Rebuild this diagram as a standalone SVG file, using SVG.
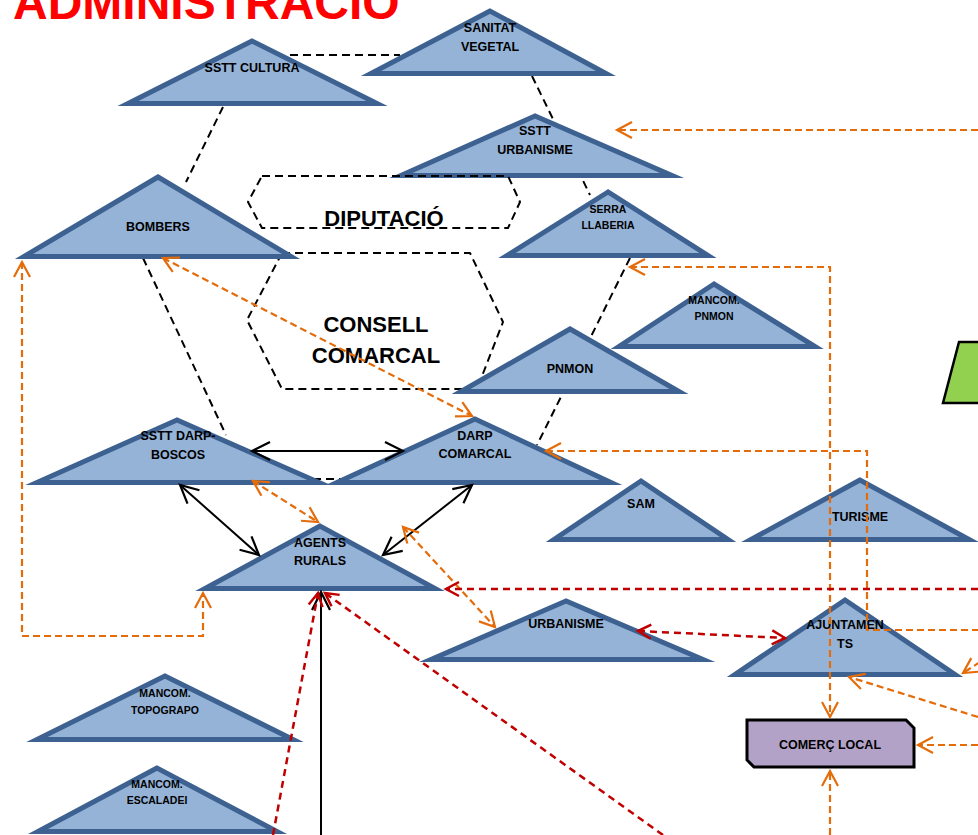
<svg xmlns="http://www.w3.org/2000/svg" width="978" height="835" viewBox="0 0 978 835">
<style>
.tri{fill:#95B3D7;stroke:#3D6190;stroke-width:5;stroke-linejoin:miter;stroke-miterlimit:12}
.lb{font-family:"Liberation Sans",Arial,sans-serif;font-weight:bold;font-size:12.5px;text-anchor:middle;fill:#000}
.sm{font-size:10.5px}
.big{font-size:22px}
.bd{fill:none;stroke:#000;stroke-width:2;stroke-dasharray:8 5}
.bs{fill:none;stroke:#000;stroke-width:2}
.od{fill:none;stroke:#E46C0A;stroke-width:2.2;stroke-dasharray:7 4}
.rd{fill:none;stroke:#C00000;stroke-width:2.5;stroke-dasharray:7 5}
</style>
<defs>
<marker id="ab" markerUnits="userSpaceOnUse" orient="auto-start-reverse" refX="0" refY="0" markerWidth="20" markerHeight="20" overflow="visible"><path d="M-18,-9 L0,0 L-18,9" fill="none" stroke="#000" stroke-width="2.2"/></marker>
<marker id="ao" markerUnits="userSpaceOnUse" orient="auto-start-reverse" refX="0" refY="0" markerWidth="20" markerHeight="20" overflow="visible"><path d="M-15,-8 L0,0 L-15,8" fill="none" stroke="#E46C0A" stroke-width="2.2"/></marker>
<marker id="ar" markerUnits="userSpaceOnUse" orient="auto-start-reverse" refX="0" refY="0" markerWidth="20" markerHeight="20" overflow="visible"><path d="M-13,-7 L0,0 L-13,7" fill="none" stroke="#C00000" stroke-width="2.5"/></marker>
</defs>
<rect width="978" height="835" fill="#fff"/>
<text x="13" y="19" font-family="Liberation Sans,Arial,sans-serif" font-weight="bold" font-size="48" fill="#FF0000">ADMINISTRACIÓ</text>

<g id="connectors-back">
<path class="bd" d="M290,55 H400"/>
<path class="bd" d="M223,107 L186,182"/>
<path class="bd" d="M532,76 L590,195"/>
<path class="bd" d="M630,258 L537,445"/>
<path class="bd" d="M143,258 L226,435"/>
<path class="bd" d="M300,479 H360"/>
</g>

<g id="consell">
<path class="bd" d="M282,253 H470 L503,322 L477,389 H282 L247,320 Z" stroke-linejoin="round"/>
<text class="lb big" x="376" y="332">CONSELL</text>
<text class="lb big" x="376" y="363">COMARCAL</text>
</g>

<g id="sstt-cultura"><polygon class="tri" points="252,41 128,103.5 377,103.5"/><text class="lb" x="252" y="71.5">SSTT CULTURA</text></g>
<g id="sanitat-vegetal"><polygon class="tri" points="490,11 371,73.5 606,73.5"/><text class="lb" x="490" y="31.5">SANITAT</text><text class="lb" x="490" y="50.5">VEGETAL</text></g>
<g id="sstt-urbanisme"><polygon class="tri" points="535,116 401,175.5 672,175.5"/><text class="lb" x="535" y="135">SSTT</text><text class="lb" x="535" y="154">URBANISME</text></g>
<g id="bombers"><polygon class="tri" points="158,177 24,256.5 291,256.5"/><text class="lb" x="158" y="230.5">BOMBERS</text></g>
<g id="serra-llaberia"><polygon class="tri" points="608,192 507,255.5 708,255.5"/><text class="lb sm" x="608" y="213">SERRA</text><text class="lb sm" x="608" y="229">LLABERIA</text></g>
<g id="mancom-pnmon"><polygon class="tri" points="714,284 619,346.5 815,346.5"/><text class="lb sm" x="714" y="304">MANCOM.</text><text class="lb sm" x="714" y="320">PNMON</text></g>
<g id="pnmon"><polygon class="tri" points="570,329 461,391.5 679,391.5"/><text class="lb" x="570" y="373" font-size="16.5px">PNMON</text></g>
<g id="sstt-darp-boscos"><polygon class="tri" points="177,420 37,482.5 319,482.5"/><text class="lb" x="178" y="439.5">SSTT DARP-</text><text class="lb" x="178" y="458.5">BOSCOS</text></g>
<g id="darp-comarcal"><polygon class="tri" points="475,419 337,482.5 611,482.5"/><text class="lb" x="475" y="439.5">DARP</text><text class="lb" x="475" y="458">COMARCAL</text></g>
<g id="sam"><polygon class="tri" points="641,481 554,539.5 728,539.5"/><text class="lb" x="641" y="507.5">SAM</text></g>
<g id="turisme"><polygon class="tri" points="860,480 751,539.5 969,539.5"/><text class="lb" x="860" y="520.5">TURISME</text></g>
<g id="agents-rurals"><polygon class="tri" points="320,526 205,588.5 435,588.5"/><text class="lb" x="320" y="546.5">AGENTS</text><text class="lb" x="320" y="564.5">RURALS</text></g>
<g id="urbanisme"><polygon class="tri" points="566,601 431,659.5 703,659.5"/><text class="lb" x="566" y="627.5">URBANISME</text></g>
<g id="ajuntaments"><polygon class="tri" points="845,600 735,674.5 955,674.5"/><text class="lb" x="845" y="628.5">AJUNTAMEN</text><text class="lb" x="845" y="647.5">TS</text></g>
<g id="mancom-topograpo"><polygon class="tri" points="165,676 37,739.5 293,739.5"/><text class="lb sm" x="165" y="697">MANCOM.</text><text class="lb sm" x="165" y="714">TOPOGRAPO</text></g>
<g id="mancom-escaladei"><polygon class="tri" points="157,768 38,831.5 277,831.5"/><text class="lb sm" x="157" y="788">MANCOM.</text><text class="lb sm" x="157" y="804">ESCALADEI</text></g>

<g id="diputacio">
<path class="bd" d="M262,176 H508 L520,202 L508,228 H262 L248,202 Z" stroke-linejoin="round"/>
<text class="lb big" x="384" y="226">DIPUTACIÓ</text>
</g>

<g id="comerc-local">
<path d="M747,720 H906 L914,728 V767 H754 L747,760 Z" fill="#B2A2C7" stroke="#000" stroke-width="3"/>
<text class="lb" x="830" y="748.5">COMERÇ LOCAL</text>
</g>

<g id="green-node">
<polygon points="959,342 990,342 990,403 943,403" fill="#92D050" stroke="#000" stroke-width="2.5"/>
</g>

<g id="connectors">
<path class="bs" d="M252,451 H403" marker-start="url(#ab)" marker-end="url(#ab)"/>
<path class="bs" d="M180,485 L259,555" marker-start="url(#ab)" marker-end="url(#ab)"/>
<path class="bs" d="M472,485 L383,555" marker-start="url(#ab)" marker-end="url(#ab)"/>
<path class="bs" d="M321,835 V592" marker-end="url(#ab)"/>

<path class="od" d="M978,130 H617" marker-end="url(#ao)"/>
<path class="od" d="M630,267 H830 V717" marker-start="url(#ao)" marker-end="url(#ao)"/>
<path class="od" d="M546,451 H867 V630 H978" marker-start="url(#ao)"/>
<path class="od" d="M163,258 L472,416" marker-start="url(#ao)" marker-end="url(#ao)"/>
<path class="od" d="M22,262 V636 H203 V593" marker-start="url(#ao)" marker-end="url(#ao)"/>
<path class="od" d="M253,481 L318,522" marker-start="url(#ao)" marker-end="url(#ao)"/>
<path class="od" d="M403,527 L495,627" marker-start="url(#ao)" marker-end="url(#ao)"/>
<path class="od" d="M980,662 L963,673" marker-end="url(#ao)"/>
<path class="od" d="M978,717 L849,677" marker-end="url(#ao)"/>
<path class="od" d="M978,745 H918" marker-end="url(#ao)"/>
<path class="od" d="M830,835 V771" marker-end="url(#ao)"/>

<path class="rd" d="M978,589 H446" marker-end="url(#ar)"/>
<path class="rd" d="M638,631 L785,638" marker-start="url(#ar)" marker-end="url(#ar)"/>
<path class="rd" d="M273,835 L318,593" marker-end="url(#ar)"/>
<path class="rd" d="M663,835 L325,593" marker-end="url(#ar)"/>
</g>
</svg>
